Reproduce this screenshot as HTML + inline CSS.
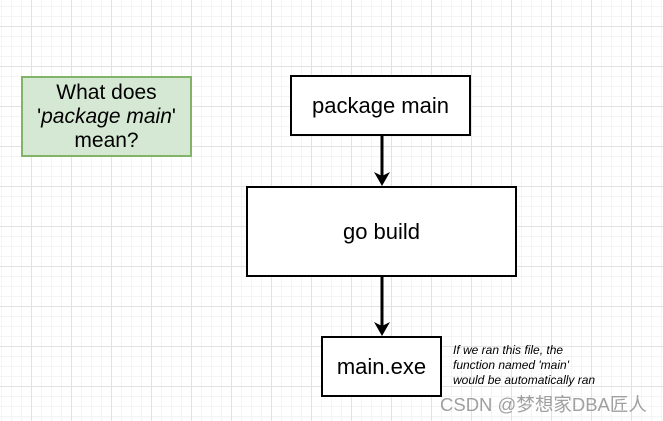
<!DOCTYPE html>
<html><head><meta charset="utf-8"><style>
html,body{margin:0;padding:0;}
body{width:663px;height:421px;position:relative;overflow:hidden;background:#fff;
background-image:linear-gradient(#e2e2e2 1px,transparent 1px),linear-gradient(90deg,#e2e2e2 1px,transparent 1px),linear-gradient(#f4f4f4 1px,transparent 1px),linear-gradient(90deg,#f4f4f4 1px,transparent 1px);
background-size:40px 40px,40px 40px,10px 10px,10px 10px;
background-position:0 26px,31px 0,0 6px,1px 0;
font-family:"Liberation Sans","Noto Sans CJK SC",sans-serif;}
.b{position:absolute;box-sizing:border-box;border:2px solid #000;background:#fff;display:flex;align-items:center;justify-content:center;text-align:center;color:#000;}
</style></head><body>
<div class="b" style="left:21px;top:76px;width:171px;height:81px;background:#d5e8d4;border-color:#82b366;font-size:21px;line-height:24px;"><div>What does<br>'<i>package main</i>'<br>mean?</div></div>
<div class="b" style="left:290px;top:75px;width:181px;height:61px;font-size:22px;">package main</div>
<div class="b" style="left:246px;top:186px;width:271px;height:91px;font-size:22px;">go build</div>
<div class="b" style="left:321px;top:336px;width:121px;height:61px;font-size:22px;">main.exe</div>
<svg style="position:absolute;left:0;top:0" width="663" height="421">
<line x1="382" y1="136" x2="382" y2="176" stroke="#000" stroke-width="3"/>
<polygon points="374,172 382,186 390,172 382,176" fill="#000"/>
<line x1="382" y1="277" x2="382" y2="326" stroke="#000" stroke-width="3"/>
<polygon points="374,322 382,336 390,322 382,326" fill="#000"/>
</svg>
<div style="position:absolute;left:453px;top:343px;font-size:12px;line-height:15px;font-style:italic;color:#000;">If we ran this file, the<br>function named 'main'<br>would be automatically ran</div>
<div style="position:absolute;left:440px;top:391px;font-size:18.5px;color:#a0a0a0;white-space:nowrap;">CSDN @梦想家DBA匠人</div>
</body></html>
